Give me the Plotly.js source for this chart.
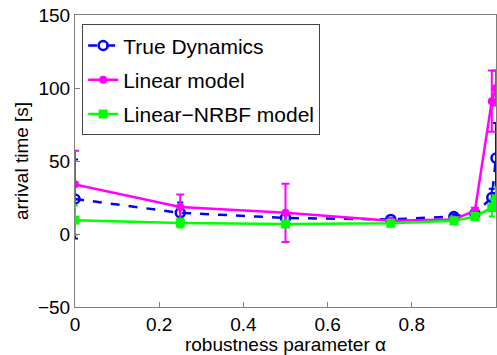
<!DOCTYPE html>
<html>
<head>
<meta charset="utf-8">
<script src="https://cdn.plot.ly/plotly-3.0.1.min.js"></script>
<style>html,body{margin:0;padding:0;background:#fff;}#chart{width:497px;height:355px;}</style>
</head>
<body>
<div id="chart"></div>
<script>
var alphaVals = [0, 0.25, 0.5, 0.75, 0.9, 0.95, 0.99, 1];
var trueDyn = [24, 14.5, 11, 10, 12, 14, 25, 52];
var trueDynErr = [27, 7, 4, 1, 1.5, 2, 6, 24];
var linModel = [34, 18.5, 14.5, 9, 10, 16, 91, 100];
var linModelErr = [23, 8.5, 20, 1, 1, 2, 21, 12];
var nrbfModel = [9.5, 7.5, 6.8, 7.3, 9, 12, 18, 24];
var nrbfModelErr = [10, 3, 2, 1, 1, 2, 6, 8];
var xTicks = [0, 0.2, 0.4, 0.6, 0.8, 1];
var yTicks = [-50, 0, 50, 100, 150];

var font = 'Liberation Sans, Arial, sans-serif';
var blue = '#0000ff', mag = '#ff00ff', grn = '#00ff00';

var traces = [
  {x: alphaVals, y: trueDyn, name: 'True Dynamics', mode: 'lines+markers', legendgroup: 'a',
   line: {color: blue, width: 2.5, dash: 'dash'},
   marker: {symbol: 'circle-open', size: 9, color: blue, line: {width: 2.5, color: blue}},
   error_y: {type: 'data', array: trueDynErr, visible: true, color: blue, thickness: 2, width: 3}},
  {x: alphaVals, y: linModel, name: 'Linear model', mode: 'lines+markers', legendgroup: 'b',
   line: {color: mag, width: 2.5},
   marker: {symbol: 'circle', size: 8, color: mag},
   error_y: {type: 'data', array: linModelErr, visible: true, color: mag, thickness: 2, width: 4}},
  {x: alphaVals, y: nrbfModel, name: 'Linear\u2212NRBF model', mode: 'lines+markers', legendgroup: 'c',
   line: {color: grn, width: 2.5},
   marker: {symbol: 'square', size: 9, color: grn},
   error_y: {type: 'data', array: nrbfModelErr, visible: true, color: grn, thickness: 2, width: 3}}
];

var layout = {
  width: 497, height: 355,
  margin: {l: 75, r: 1, t: 15, b: 48},
  paper_bgcolor: '#fff', plot_bgcolor: '#fff',
  font: {family: font, size: 19, color: '#000'},
  showlegend: true,
  legend: {x: 0.017, y: 0.968, xanchor: 'left', yanchor: 'top',
    bgcolor: '#fff', bordercolor: '#444', borderwidth: 1,
    font: {family: font, size: 21, color: '#000'}, tracegroupgap: 4},
  xaxis: {range: [0, 1], tickvals: xTicks, ticktext: xTicks.map(String),
    showgrid: false, zeroline: false, showline: true, mirror: true,
    linecolor: '#7f7f7f', linewidth: 1, ticks: 'inside', ticklen: 5, tickcolor: '#7f7f7f',
    tickfont: {family: font, size: 19},
    title: {text: 'robustness parameter \u03b1', font: {family: font, size: 19}, standoff: 0}},
  yaxis: {range: [-50, 150], tickvals: yTicks, ticktext: yTicks.map(function(v){return v < 0 ? '\u2212' + Math.abs(v) : String(v);}),
    showgrid: false, zeroline: false, showline: true, mirror: true,
    linecolor: '#7f7f7f', linewidth: 1, ticks: 'inside', ticklen: 5, tickcolor: '#7f7f7f',
    tickfont: {family: font, size: 19},
    title: {text: 'arrival time [s]', font: {family: font, size: 19}, standoff: 4}}
};

Plotly.newPlot('chart', traces, layout, {displayModeBar: false, staticPlot: true});
</script>
</body>
</html>
